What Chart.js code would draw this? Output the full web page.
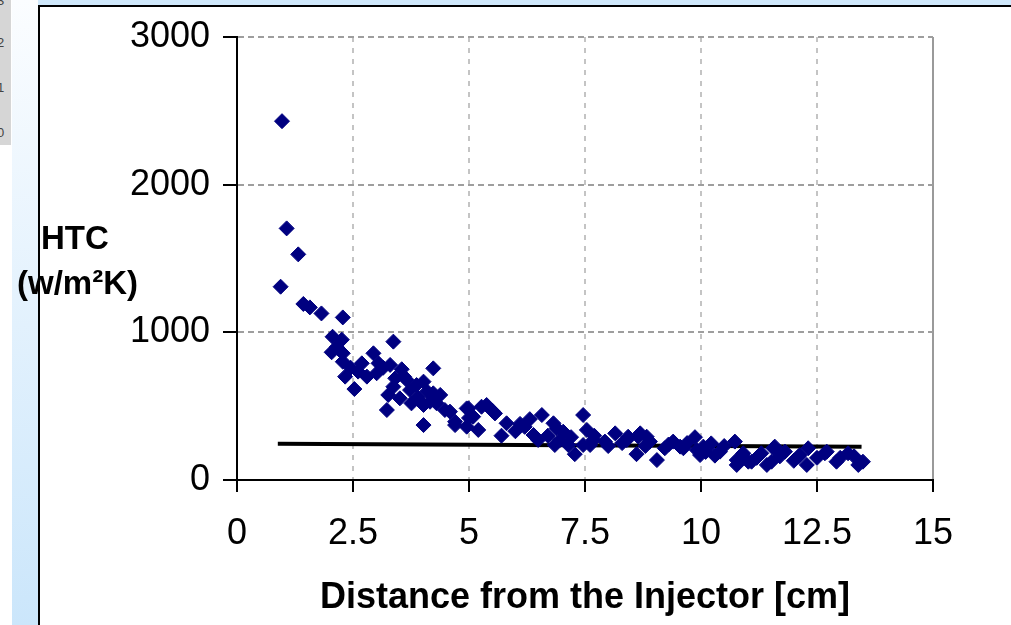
<!DOCTYPE html>
<html>
<head>
<meta charset="utf-8">
<title>HTC vs distance</title>
<script src="https://cdn.jsdelivr.net/npm/chart.js@4.4.1/dist/chart.umd.min.js"></script>
<style>
  body { margin: 0; width: 1011px; height: 625px; overflow: hidden; background: #fff; position: relative; font-family: "Liberation Sans", Arial, sans-serif; }
  .strip-left { position: absolute; left: 12px; top: 0; width: 27px; height: 625px; background: linear-gradient(#fbfdff, #cbe6fb); }
  .strip-top { position: absolute; left: 38px; top: 0; right: 0; height: 5px; background: #cfe8fb; }
  .gray-box { position: absolute; left: 0; top: 0; width: 11px; height: 145px; background: #d6d6d6; overflow: hidden; }
  .gray-box span { position: absolute; left: -3px; font-size: 13px; color: #444; }
  .frame { position: absolute; left: 38px; top: 5px; right: 0; bottom: 0; border-left: 2px solid #000; border-top: 2px solid #000; background: #fff; }
  canvas { position: absolute; left: 0; top: 0; }
  .ylab { position: absolute; font-weight: bold; font-size: 33px; line-height: 33px; color: #000; white-space: nowrap; }
</style>
</head>
<body>
<div class="strip-left"></div>
<div class="strip-top"></div>
<div class="gray-box"><span style="top:-7px">3</span><span style="top:35px">2</span><span style="top:80px">1</span><span style="top:125px">0</span></div>
<div class="frame"></div>
<canvas id="htc-chart" width="1011" height="625"></canvas>
<div class="ylab" style="left:41px; top:221px;">HTC</div>
<div class="ylab" style="left:17px; top:266px;">(w/m²K)</div>
<script>
const distance = [
  0.97, 1.07, 1.32, 0.94, 1.43, 1.57, 1.82, 2.28, 2.06, 2.26,
  3.37, 2.04, 2.28, 2.94, 2.28, 2.69, 3.05, 3.30, 4.23, 3.55,
  2.33, 2.61, 3.01, 3.41, 3.66, 4.02, 2.53, 3.37, 3.73, 3.87,
  4.23, 3.26, 3.51, 3.76, 4.02, 4.16, 3.23, 4.48, 4.95, 5.09,
  4.02, 4.70, 4.95, 2.15, 2.45, 2.80, 3.15, 3.60, 3.90, 4.10,
  4.30, 4.38, 4.59, 4.70, 4.99, 5.20, 5.27, 5.38, 5.56, 5.70,
  5.81, 6.10, 6.31, 6.57, 6.39, 6.49, 6.82, 6.89, 7.03, 6.85,
  6.96, 7.14, 7.28, 7.46, 7.54, 7.46, 7.61, 7.68, 7.93, 8.15,
  8.40, 8.43, 8.65, 8.61, 8.90, 9.05, 9.22, 9.40, 9.55, 9.62,
  8.83, 8.69, 9.87, 9.91, 9.98, 10.05, 10.22, 10.30, 10.41, 10.73,
  10.77, 10.77, 10.91, 11.02, 11.09, 11.30, 11.42, 11.52, 11.56, 11.59,
  11.81, 12.10, 12.13, 12.28, 12.31, 12.67, 12.71, 12.92, 13.17, 13.39,
  13.49, 5.00, 5.50, 6.00, 6.20, 6.70, 7.20, 7.70, 8.00, 8.30,
  8.80, 9.30, 9.70, 10.10, 10.50, 11.20, 11.70, 12.00, 12.50, 13.00,
  13.30
];
const htc = [
  2430, 1704, 1528, 1309, 1192, 1169, 1128, 1101, 970, 950,
  937, 865, 858, 858, 801, 790, 790, 779, 756, 750,
  700, 734, 723, 689, 677, 666, 616, 632, 609, 643,
  587, 576, 553, 519, 508, 530, 474, 474, 485, 429,
  372, 372, 361, 900, 760, 700, 760, 700, 560, 600,
  520, 576, 463, 395, 485, 339, 496, 508, 451, 300,
  384, 380, 412, 440, 305, 271, 384, 350, 327, 237,
  271, 237, 175, 440, 339, 237, 237, 271, 260, 316,
  271, 293, 293, 175, 260, 135, 215, 260, 226, 215,
  293, 316, 290, 203, 169, 226, 248, 165, 192, 260,
  135, 102, 181, 124, 124, 181, 102, 124, 215, 226,
  192, 158, 169, 102, 215, 181, 192, 124, 181, 102,
  124, 420, 470, 330, 360, 300, 290, 300, 230, 250,
  230, 240, 250, 190, 230, 150, 160, 130, 150, 150,
  160
];
// fitted curve drawn across the data
const trendX = [0.88, 13.46];
const trendY = [245, 226];

const xTicks = [0, 2.5, 5, 7.5, 10, 12.5, 15];
const yTicks = [0, 1000, 2000, 3000];

const ctx = document.getElementById('htc-chart');

new Chart(ctx, {
  type: 'scatter',
  data: {
    datasets: [
      {
        label: 'HTC',
        data: distance.map((d, i) => ({x: d, y: htc[i]})),
        pointStyle: 'rectRot',
        pointRadius: 7.5,
        pointHoverRadius: 7.5,
        borderWidth: 1,
        borderColor: '#000080',
        backgroundColor: '#000080',
      },
      {
        label: 'trend',
        type: 'line',
        data: trendX.map((d, i) => ({x: d, y: trendY[i]})),
        borderColor: '#000',
        borderWidth: 4,
        pointRadius: 0,
        fill: false,
      },
    ],
  },
  options: {
    responsive: false,
    animation: false,
    layout: { padding: { top: 37, right: 78, bottom: 0, left: 0 } },
    plugins: {
      legend: { display: false },
      tooltip: { enabled: false },
    },
    scales: {
      x: {
        type: 'linear',
        min: 0,
        max: 15,
        afterBuildTicks: (s) => { s.ticks = xTicks.map(v => ({value: v})); },
        afterFit: (s) => { s.height = 145; },
        ticks: {
          color: '#000',
          padding: 20,
          font: { family: '"Liberation Sans", Arial', size: 36 },
          callback: (v) => String(v),
        },
        grid: {
          color: (c) => (c.tick && c.tick.value === 0) ? 'rgba(0,0,0,0)' : (c.tick && c.tick.value === 15 ? '#9a9a9a' : '#c4c4c4'),
          lineWidth: 2,
          tickColor: '#000',
          tickWidth: 2,
          tickLength: 12,
        },
        border: {
          color: '#000',
          width: 2,
          dash: (c) => (c.tick && c.tick.value === 15) ? [] : [5, 6],
        },
        title: {
          display: true,
          text: 'Distance from the Injector [cm]',
          color: '#000',
          font: { family: '"Liberation Sans", Arial', size: 36, weight: 'bold' },
          padding: { top: 0, bottom: 5 },
        },
      },
      y: {
        min: 0,
        max: 3000,
        afterBuildTicks: (s) => { s.ticks = yTicks.map(v => ({value: v})); },
        afterFit: (s) => { s.width = 237; },
        ticks: {
          color: '#000',
          padding: 13,
          font: { family: '"Liberation Sans", Arial', size: 36 },
          callback: (v) => String(v),
        },
        grid: {
          color: (c) => (c.tick && c.tick.value === 0) ? 'rgba(0,0,0,0)' : '#9e9e9e',
          lineWidth: 2,
          tickColor: '#000',
          tickWidth: 2,
          tickLength: 14,
        },
        border: {
          color: '#000',
          width: 2,
          dash: [6, 4],
        },
      },
    },
  },
});
</script>
</body>
</html>
